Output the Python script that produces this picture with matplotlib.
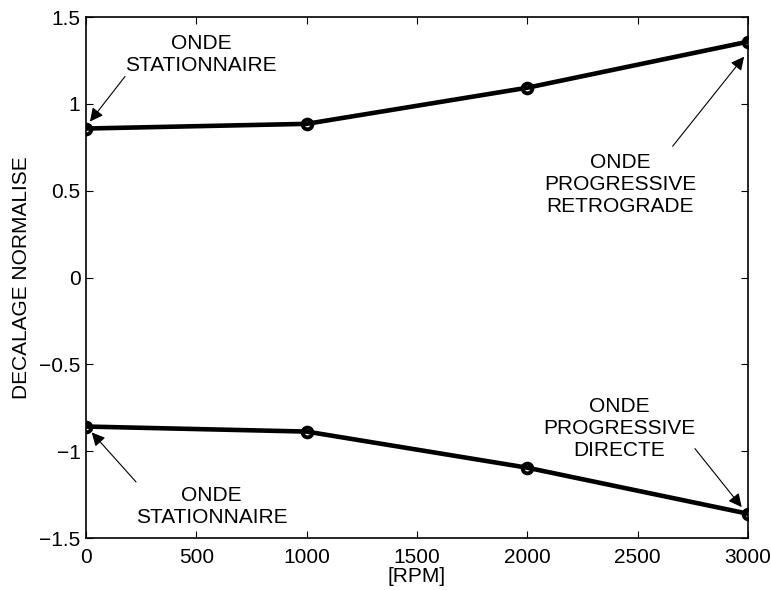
import matplotlib
matplotlib.use('Agg')
from matplotlib import pyplot as plt

rpm = [0, 1000, 2000, 3000]
decalage_haut = [0.858, 0.885, 1.093, 1.358]
decalage_bas = [-0.858, -0.887, -1.095, -1.360]

xticks = [0, 500, 1000, 1500, 2000, 2500, 3000]
yticks = [-1.5, -1, -0.5, 0, 0.5, 1, 1.5]

plt.rcParams['font.family'] = ['Liberation Sans', 'DejaVu Sans']
plt.rcParams['font.size'] = 15

fig = plt.figure(figsize=(7.71, 5.90), dpi=100)
ax = fig.add_axes([0.1115, 0.0881, 0.8585, 0.8830])

style = dict(color='black', linewidth=3.3, marker='o', markersize=7,
             markerfacecolor='none', markeredgewidth=2.8)
ax.plot(rpm, decalage_haut, **style)
ax.plot(rpm, decalage_bas, **style)

ax.set_xlim(0, 3000)
ax.set_ylim(-1.5, 1.5)
ax.set_xticks(xticks)
ax.set_yticks(yticks)
ax.set_yticklabels(['\u22121.5', '\u22121', '\u22120.5', '0', '0.5', '1', '1.5'])
ax.tick_params(direction='in', top=True, right=True, length=5, labelsize=15)
ax.tick_params(axis='x', pad=7)
ax.tick_params(axis='y', pad=4)
for s in ax.spines.values():
    s.set_linewidth(1.2)

ax.set_xlabel('[RPM]', fontsize=15, labelpad=0)
ax.set_ylabel('DECALAGE NORMALISE', fontsize=15, labelpad=6)

fleche = dict(arrowstyle='-|>', color='black', lw=0.8, mutation_scale=20,
              shrinkA=0, shrinkB=0)
txt = dict(ha='center', va='center', fontsize=15, linespacing=1.2)

ax.annotate('', xy=(18, 0.898), xytext=(177, 1.158), arrowprops=fleche)
ax.text(521, 1.285, 'ONDE\nSTATIONNAIRE', **txt)

ax.annotate('', xy=(2983, 1.272), xytext=(2659, 0.756), arrowprops=fleche)
ax.text(2420, 0.534, 'ONDE\nPROGRESSIVE\nRETROGRADE', **txt)

ax.annotate('', xy=(26, -0.892), xytext=(227, -1.177), arrowprops=fleche)
ax.text(569, -1.321, 'ONDE\nSTATIONNAIRE', **txt)

ax.annotate('', xy=(2972, -1.322), xytext=(2760, -0.985), arrowprops=fleche)
ax.text(2416, -0.867, 'ONDE\nPROGRESSIVE\nDIRECTE', **txt)

fig.savefig('out.png', dpi=100)
